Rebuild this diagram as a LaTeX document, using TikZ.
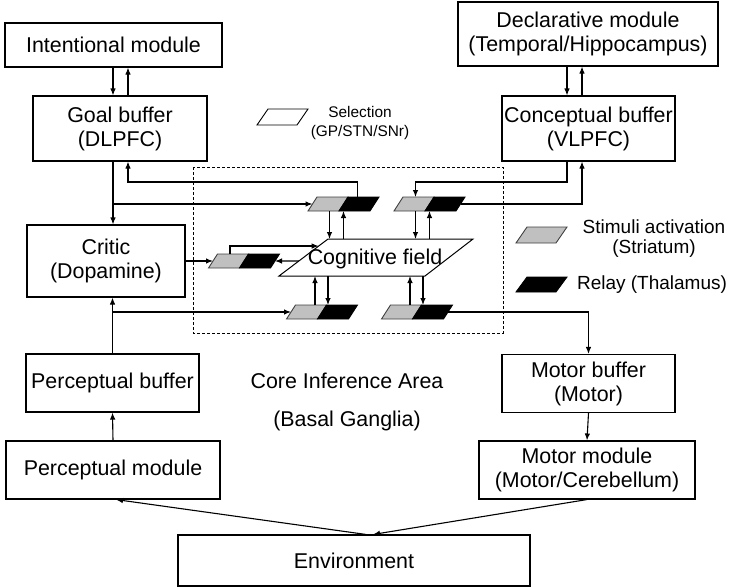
\documentclass[tikz,border=0pt]{standalone}
\usepackage{fontspec}
\setmainfont{Liberation Sans}
\usetikzlibrary{arrows.meta,calc}
\definecolor{pairgray}{HTML}{C0C0C0}
\definecolor{edgegray}{HTML}{404040}
\tikzset{
  box/.style={draw=black,line width=1.1pt,inner sep=0pt,align=center,
    font=\fontsize{21.4}{24}\selectfont},
  lbl/.style={inner sep=0pt,align=center,font=\fontsize{21.4}{24}\selectfont},
  legtext/.style={inner sep=0pt,align=center,font=\fontsize{19}{19.5}\selectfont},
  arr/.style={line width=1.1pt,-{Latex[length=7pt,width=5.5pt]}},
  pair/.pic={
    \path[fill=pairgray,draw=edgegray,line width=0.9pt]
      (-35.5,7) -- (-26.5,-7) -- (4.5,-7) -- (-4.5,7) -- cycle;
    \path[fill=black,draw=black,line width=0.9pt]
      (-4.5,7) -- (4.5,-7) -- (35.5,-7) -- (26.5,7) -- cycle;
    \coordinate (-c) at (0,0);
    \coordinate (-w) at (-31,0);
    \coordinate (-e) at (31,0);
    \coordinate (-d1) at (-14,7);
    \coordinate (-d2) at (0,7);
    \coordinate (-u1) at (-7,-7);
    \coordinate (-u2) at (6,-7);
    \coordinate (-t1) at (-14,-7);
    \coordinate (-t2) at (14,-7);
  }
}
\begin{document}
\begin{tikzpicture}[x=1pt,y=-1pt]
\useasboundingbox (0,0) rectangle (729,587);

% modules and buffers
\node[box,minimum width=217pt,minimum height=44pt] (intent) at (113.5,45) {Intentional module};
\node[box,minimum width=174pt,minimum height=65pt] (goal) at (120,128.5) {Goal buffer\\(DLPFC)};
\node[box,minimum width=260pt,minimum height=64pt] (decl) at (588,34) {Declarative module\\(Temporal/Hippocampus)};
\node[box,minimum width=173pt,minimum height=65pt] (concept) at (588.5,128.5) {Conceptual buffer\\(VLPFC)};
\node[box,minimum width=158pt,minimum height=72pt] (critic) at (106,261) {Critic\\(Dopamine)};
\node[box,minimum width=173pt,minimum height=58pt] (pbuf) at (112.5,383) {Perceptual buffer};
\node[box,minimum width=214pt,minimum height=58pt] (pmod) at (113,470) {Perceptual module};
\node[box,minimum width=173pt,minimum height=58pt] (mbuf) at (588.5,383.5) {Motor buffer\\(Motor)};
\node[box,minimum width=216pt,minimum height=58pt] (mmod) at (587,470) {Motor module\\(Motor/Cerebellum)};
\node[box,minimum width=352pt,minimum height=51pt] (env) at (354,560.5) {Environment};

% core inference area
\draw[dashed,dash pattern=on 3pt off 2pt,line width=0.9pt] (193,167) rectangle (503,333);
\node[lbl] (core) at (347,380.5) {Core Inference Area};
\node[lbl] (basal) at (347,421) {(Basal Ganglia)};

% cognitive field
\coordinate (cf-tl) at (328,239);
\coordinate (cf-tr) at (473,239);
\coordinate (cf-br) at (425,276);
\coordinate (cf-bl) at (279,276);
\draw[line width=1pt,fill=white] (cf-tl) -- (cf-tr) -- (cf-br) -- (cf-bl) -- cycle;
\node[lbl] (cf) at (375,259) {Cognitive field};

% striatum/thalamus pairs
\pic (A) at (343.5,204) {pair};
\pic (B) at (429.5,204) {pair};
\pic (C) at (244,261) {pair};
\pic (D) at (322,312) {pair};
\pic (E) at (417,312) {pair};

% intentional <-> goal
\coordinate (g1) at ($(goal.north)+(-7,0)$);
\coordinate (g2) at ($(goal.north)+(8,0)$);
\draw[arr] (g1 |- intent.south) -- (g1);
\draw[arr] (g2) -- (g2 |- intent.south);

% declarative <-> conceptual
\coordinate (k1) at ($(concept.north)+(-21.5,0)$);
\coordinate (k2) at ($(concept.north)+(-6.5,0)$);
\draw[arr] (k1 |- decl.south) -- (k1);
\draw[arr] (k2) -- (k2 |- decl.south);

% goal buffer links
\coordinate (g3) at ($(goal.south)+(-7,0)$);
\coordinate (g4) at ($(goal.south)+(8,0)$);
\coordinate (runtop) at (0,182);
\draw[arr] (g3) -- (g3 |- critic.north);
\draw[arr] (g3 |- A-w) -- (A-w);
\draw[arr] (A-t2) -- (A-t2 |- runtop) -| (g4);

% conceptual buffer links
\coordinate (k3) at ($(concept.south)+(-21.5,0)$);
\coordinate (k4) at ($(concept.south)+(-6.5,0)$);
\draw[arr] (k3) -- (k3 |- runtop) -| (B-t1);
\draw[arr] (B-e) -| (k4);

% pairs <-> cognitive field
\draw[arr] (A-d1) -- (A-d1 |- cf-tl);
\draw[arr] (A-d2 |- cf-tl) -- (A-d2);
\draw[arr] (B-d1) -- (B-d1 |- cf-tl);
\draw[arr] (B-d2 |- cf-tl) -- (B-d2);
\draw[arr] (D-u1) -- (D-u1 |- cf-bl);
\draw[arr] (D-u2 |- cf-bl) -- (D-u2);
\draw[arr] (E-u1) -- (E-u1 |- cf-bl);
\draw[arr] (E-u2 |- cf-bl) -- (E-u2);

% critic loop
\coordinate (cfa) at ($(cf-bl)!0.81!(cf-tl)$);
\coordinate (cfb) at ($(cf-bl)!0.405!(cf-tl)$);
\draw[arr] (critic.east) -- (C-w);
\draw[arr] (C-t1) |- (cfa);
\draw[arr] (cfb) -- (C-e);

% perception side
\draw[arr] (pbuf.north) -- (pbuf.north |- critic.south);
\draw[arr] (pbuf.north |- D-w) -- (D-w);
\draw[arr] (pmod.north) -- (pbuf.south);

% motor side
\draw[arr] (E-e) -| (mbuf.north);
\draw[arr] (mbuf.south) -- (mmod.north);

% environment
\coordinate (e1) at ($(env.north)+(12,0)$);
\coordinate (e2) at ($(env.north)+(19,0)$);
\coordinate (p1) at ($(pmod.south)+(3,0)$);
\draw[arr] (e1) -- (p1);
\draw[arr] (mmod.south) -- (e2);

% legend
\draw[line width=0.9pt] (257,125) -- (268,109) -- (308,109) -- (297,125) -- cycle;
\node[inner sep=0pt,align=center,font=\fontsize{15.4}{19}\selectfont] (sel) at (360,123) {Selection\\(GP/STN/SNr)};
\path[fill=pairgray,draw=edgegray,line width=0.9pt] (516,243) -- (527,227) -- (567,227) -- (556,243) -- cycle;
\path[fill=black,draw=black,line width=0.9pt] (516,292) -- (527,277) -- (567,277) -- (556,292) -- cycle;
\node[legtext] (stim) at (654,238.5) {Stimuli activation\\(Striatum)};
\node[legtext] (relay) at (652,285) {Relay (Thalamus)};
\end{tikzpicture}
\end{document}
